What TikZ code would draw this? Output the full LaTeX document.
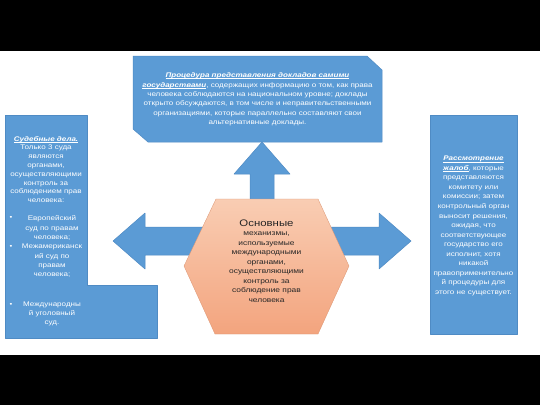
\documentclass[tikz,border=0pt]{standalone}
\usepackage{fontspec}
\setmainfont{Liberation Sans}[FakeStretch=1.2]
\usepackage{tikz}
\definecolor{slideblue}{HTML}{5B9BD5}
\definecolor{slideedge}{HTML}{4F8BC4}
\definecolor{peachtop}{HTML}{F9CDB3}
\definecolor{peachbot}{HTML}{F3A47E}
\definecolor{hextext}{HTML}{262626}
\newcommand{\hdr}[1]{{\bfseries\itshape\setbox0\hbox{#1}\rlap{\rule[-1.2pt]{\wd0}{0.45pt}}\box0}}

\begin{document}
\begin{tikzpicture}[line cap=round,line join=round,x=1pt,y=-1pt,
  blueshape/.style={fill=slideblue,draw=slideedge,line width=0.5pt},
  boxtext/.style={text=white,align=center,inner sep=0pt,font=\fontsize{6.6}{9.4}\selectfont}]
\useasboundingbox (0,0) rectangle (540,405);
\fill[white] (0,0) rectangle (540,405);
% black bands
\fill[black] (0,0) rectangle (540,51);
\fill[black] (0,355) rectangle (540,405);
% boxes
\draw [blueshape] (133,56) -- (367,56) -- (382,70) -- (382,142) -- (148,142) -- (133,129) -- cycle;
\draw [blueshape] (5,115) -- (87,115) -- (87,285) -- (157,285) -- (157,338) -- (5,338) -- cycle;
\draw [blueshape] (430,115) rectangle (517,334);
% arrows
\draw [blueshape] (262,142) -- (290,174) -- (274,174) -- (274,210) -- (250,210) -- (250,174) -- (234,174) -- cycle;
\draw [blueshape] (113,241) -- (145,213) -- (145,227) -- (215,227) -- (215,255) -- (145,255) -- (145,269) -- cycle;
\draw [blueshape] (411,241) -- (379,213) -- (379,227) -- (320,227) -- (320,255) -- (379,255) -- (379,269) -- cycle;
% hexagon
\shade [top color=peachtop,bottom color=peachbot,draw=peachbot!90!black,line width=0.3pt]
  (184,266) -- (216,199) -- (318,199) -- (349,266) -- (318,334) -- (215,334) -- cycle;
\node[text=hextext,align=center,inner sep=0pt,font=\fontsize{7}{9.5}\selectfont] (core) at (266.5,261)
  {{\fontsize{9.5}{9.5}\selectfont Основные}\\механизмы,\\используемые\\международными\\органами,\\осуществляющими\\контроль за\\соблюдение прав\\человека};
% texts
\node[boxtext,font=\fontsize{6.7}{9.4}\selectfont] (report) at (257.5,99.5)
  {\hdr{Процедура представления докладов самими}\\
   \hdr{государствами}, содержащих информацию о том, как права\\
   человека соблюдаются на национальном уровне; доклады\\
   открыто обсуждаются, в том числе и неправительственными\\
   организациями, которые параллельно составляют свои\\
   альтернативные доклады.};
\node[boxtext,font=\fontsize{6.7}{8.8}\selectfont] (courts) at (46,169.5)
  {\hdr{Судебные дела.}\\Только 3 суда\\являются\\органами,\\осуществляющими\\контроль за\\соблюдением прав\\человека:};
\node[boxtext,font=\fontsize{6.7}{9.3}\selectfont] (itemA) at (52,228) {Европейский\\суд по правам\\человека;};
\node[boxtext] (bulA) at (11,218) {•};
\node[boxtext,font=\fontsize{6.7}{9.3}\selectfont] (itemB) at (52,261) {Межамериканск\\ий суд по\\правам\\человека;};
\node[boxtext] (bulB) at (11,247) {•};
\node[boxtext,font=\fontsize{6.7}{9.3}\selectfont] (itemC) at (52,314) {Международны\\й уголовный\\суд.};
\node[boxtext] (bulC) at (11,305) {•};
\node[boxtext,font=\fontsize{6.7}{9.55}\selectfont] (claims) at (473.5,226)
  {\hdr{Рассмотрение}\\\hdr{жалоб}, которые\\представляются\\комитету или\\комиссии; затем\\контрольный орган\\выносит решения,\\ожидая, что\\соответствующее\\государство его\\исполнит, хотя\\никакой\\правоприменительно\\й процедуры для\\этого не существует.};
\end{tikzpicture}
\end{document}
